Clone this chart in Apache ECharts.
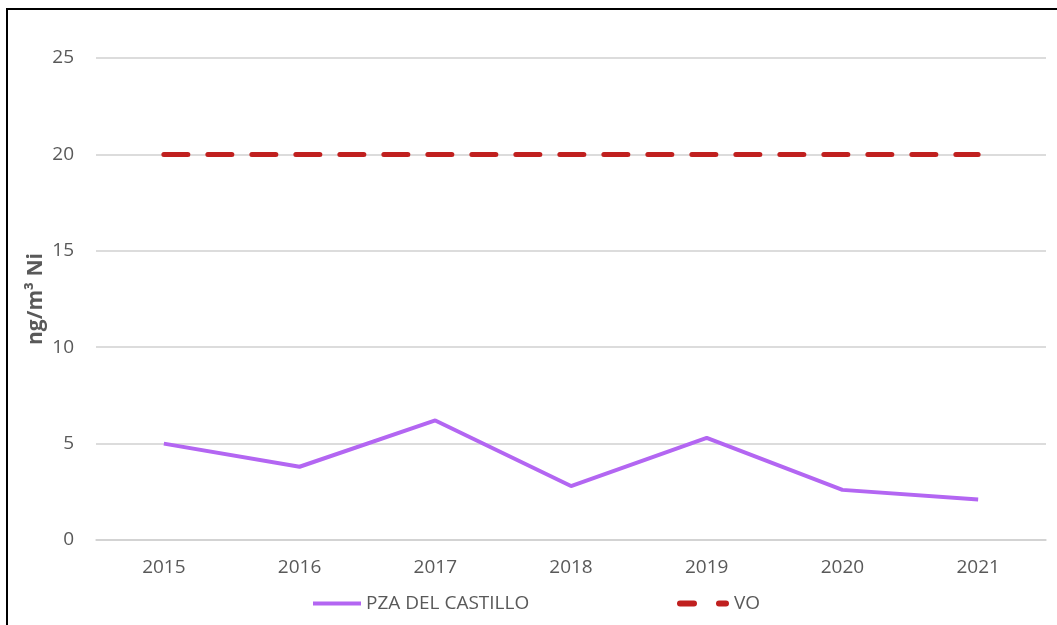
<!DOCTYPE html>
<html>
<head>
<meta charset="utf-8">
<title>Ni</title>
<script src="https://cdn.jsdelivr.net/npm/echarts@6/dist/echarts.min.js"></script>
<style>
    html, body { margin: 0; padding: 0; background: #fff; }
    #chart { width: 1057px; height: 625px; }
    #frame { position: absolute; left: 6px; top: 8px; right: 0; bottom: 0;
             border-left: 2px solid #000; border-top: 2px solid #000; pointer-events: none; }
</style>
</head>
<body>
<div id="chart"></div>
<div id="frame"></div>
<script>
    // datos
    var years = ['2015', '2016', '2017', '2018', '2019', '2020', '2021'];
    var castillo = [5.0, 3.8, 6.2, 2.8, 5.3, 2.6, 2.1];
    var vo = [20, 20, 20, 20, 20, 20, 20];
    var yTicks = [0, 5, 10, 15, 20, 25];

    var chart = echarts.init(document.getElementById('chart'));
    var txt = '#595959';
    var font = '"Open Sans", "Liberation Sans", sans-serif';

    var option = {
        animation: false,
        textStyle: { fontFamily: font },
        grid: { left: 96, right: 11, top: 58, bottom: 85 },
        legend: [
            {
                left: 313, top: 594, padding: 0,
                itemWidth: 48, itemHeight: 4,
                icon: 'rect',
                textStyle: { color: txt, fontSize: 19, fontFamily: font },
                data: [{ name: 'PZA DEL CASTILLO' }]
            },
            {
                left: 677, top: 594, padding: 0,
                itemWidth: 52, itemHeight: 6,
                icon: 'path://M3,0h14a3,3 0 0 1 0,6h-14a3,3 0 0 1 0,-6z M42,0h7a3,3 0 0 1 0,6h-7a3,3 0 0 1 0,-6z',
                textStyle: { color: txt, fontSize: 19, fontFamily: font },
                data: [{ name: 'VO' }]
            }
        ],
        xAxis: {
            type: 'category',
            data: years,
            boundaryGap: true,
            axisLine: { show: true, lineStyle: { color: '#D0D0D0', width: 1.5 } },
            axisTick: { show: false },
            axisLabel: { color: txt, fontSize: 19, margin: 18 }
        },
        yAxis: {
            type: 'value',
            min: yTicks[0],
            max: yTicks[yTicks.length - 1],
            interval: 5,
            name: 'ng/m³ Ni',
            nameLocation: 'middle',
            nameGap: 49,
            nameMoveOverlap: false,
            nameTextStyle: { color: txt, fontSize: 21, fontWeight: 'bold' },
            axisLine: { show: false },
            axisTick: { show: false },
            axisLabel: { color: txt, fontSize: 19, margin: 22 },
            splitLine: { lineStyle: { color: '#D0D0D0', width: 1.5 } }
        },
        series: [
            {
                name: 'PZA DEL CASTILLO',
                type: 'line',
                data: castillo,
                symbol: 'none',
                color: '#B366F2',
                lineStyle: { color: '#B366F2', width: 4 }
            },
            {
                name: 'VO',
                type: 'line',
                data: vo,
                symbol: 'none',
                color: '#C0201F',
                lineStyle: { color: '#C0201F', width: 5, type: [24, 20], cap: 'round' }
            }
        ]
    };

    chart.setOption(option);
</script>
</body>
</html>
